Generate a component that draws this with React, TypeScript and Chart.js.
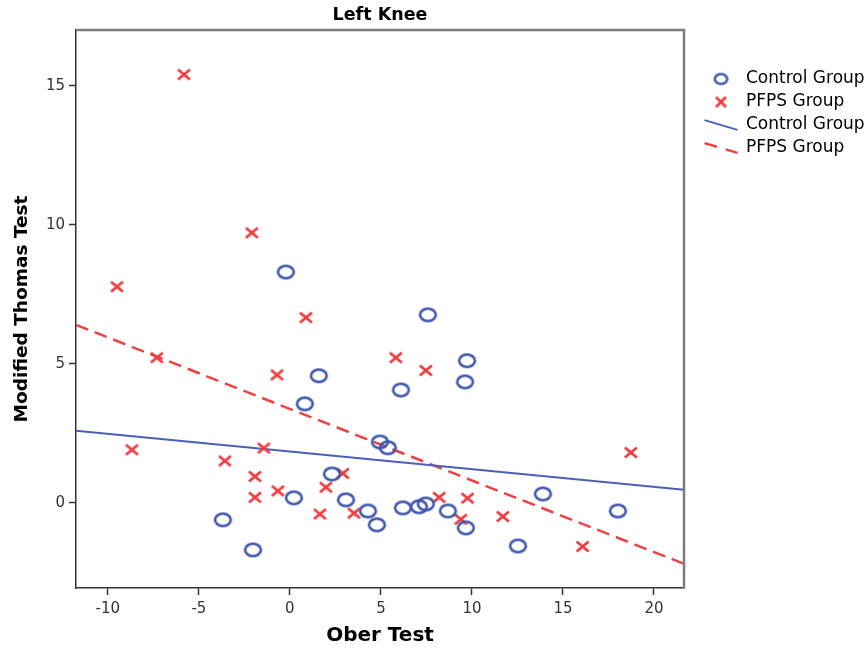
import React, { useEffect, useRef } from 'react';
import { Chart, registerables } from 'chart.js';

Chart.register(...registerables);

// ---- data ----
const seriesNames = ['Control Group', 'PFPS Group'];

const controlX = [-0.22, 7.58, 9.73, 9.62, 1.59, 6.1, 0.82, 4.95, 5.38, 2.31, 0.22, 3.08, 4.29, 4.78, -3.68, -2.03, 6.21, 7.09, 7.47, 8.68, 9.67, 13.9, 18.02, 12.53];
const controlY = [8.3, 6.76, 5.11, 4.35, 4.57, 4.06, 3.56, 2.19, 1.98, 1.04, 0.18, 0.11, -0.29, -0.79, -0.61, -1.69, -0.18, -0.14, -0.04, -0.29, -0.9, 0.32, -0.29, -1.55];

const pfpsX = [-5.82, -2.09, -9.5, 0.88, -7.31, -0.71, 5.82, 7.47, -8.68, -1.43, -3.57, -1.92, -1.92, -0.66, 2.91, 1.98, 1.65, 3.52, 18.73, 8.2, 9.76, 9.39, 11.7, 16.08];
const pfpsY = [15.4, 9.71, 7.77, 6.66, 5.22, 4.6, 5.22, 4.76, 1.91, 1.97, 1.51, 0.95, 0.2, 0.43, 1.06, 0.56, -0.4, -0.37, 1.81, 0.2, 0.17, -0.59, -0.49, -1.57];

const fitX = [-11.75, 21.65];
const controlFitY = [2.59, 0.47];
const pfpsFitY = [6.4, -2.19];

const xTicks = [-10, -5, 0, 5, 10, 15, 20];
const yTicks = [0, 5, 10, 15];

// ---- styles ----
const FONT = 'DejaVu Sans';
const BLUE = '#3c55ab';
const RED = '#ee3a3e';
const BLUE_LINE = '#4a5fb8';
const RED_LINE = '#f04043';

function makeEllipse(rx: number, ry: number, lw: number, color: string) {
  const c = document.createElement('canvas');
  c.width = Math.ceil(2 * rx + lw + 4);
  c.height = Math.ceil(2 * ry + lw + 4);
  const ctx = c.getContext('2d')!;
  ctx.strokeStyle = color;
  ctx.lineWidth = lw;
  ctx.beginPath();
  ctx.ellipse(c.width / 2, c.height / 2, rx, ry, 0, 0, Math.PI * 2);
  ctx.stroke();
  return c;
}

function makeCross(hx: number, hy: number, lw: number, color: string) {
  const c = document.createElement('canvas');
  c.width = Math.ceil(2 * hx + lw + 4);
  c.height = Math.ceil(2 * hy + lw + 4);
  const ctx = c.getContext('2d')!;
  const cx = c.width / 2;
  const cy = c.height / 2;
  ctx.strokeStyle = color;
  ctx.lineWidth = lw;
  ctx.beginPath();
  ctx.moveTo(cx - hx, cy - hy);
  ctx.lineTo(cx + hx, cy + hy);
  ctx.moveTo(cx - hx, cy + hy);
  ctx.lineTo(cx + hx, cy - hy);
  ctx.stroke();
  return c;
}

const framePlugin = {
  id: 'frame',
  afterDraw(chart: any) {
    const { ctx, chartArea: a } = chart;
    ctx.save();
    ctx.strokeStyle = '#7d7d7d';
    ctx.lineWidth = 2.5;
    ctx.beginPath();
    ctx.moveTo(a.left, a.top);
    ctx.lineTo(a.right, a.top);
    ctx.lineTo(a.right, a.bottom);
    ctx.stroke();
    ctx.restore();
  },
};

const legendPlacer = {
  id: 'legendPlacer',
  afterLayout(chart: any) {
    const lg = chart.legend;
    if (!lg) return;
    const h = lg.height;
    lg.left = 698.5;
    lg.top = 64.5;
    lg.right = chart.width;
    lg.width = lg.right - lg.left;
    lg.bottom = lg.top + h;
  },
};

export default function App() {
  const ref = useRef<HTMLCanvasElement>(null);

  useEffect(() => {
    const canvas = ref.current;
    if (!canvas) return;

    const circleImg = makeEllipse(7.9, 6.2, 2.6, BLUE);
    const crossImg = makeCross(6, 5, 2.8, RED);
    const legendCircle = makeEllipse(6.2, 5, 2.5, BLUE);
    const legendCross = makeCross(5, 5, 2.8, RED);

    const chart = new Chart(canvas, {
      type: 'scatter',
      data: {
        datasets: [
          {
            label: seriesNames[0],
            data: controlX.map((x, i) => ({ x, y: controlY[i] })),
            pointStyle: circleImg as any,
            pointRadius: 7,
            borderColor: BLUE,
            backgroundColor: BLUE,
          },
          {
            label: seriesNames[1],
            data: pfpsX.map((x, i) => ({ x, y: pfpsY[i] })),
            pointStyle: crossImg as any,
            pointRadius: 6,
            borderColor: RED,
            backgroundColor: RED,
          },
          {
            type: 'line' as any,
            label: seriesNames[0],
            data: fitX.map((x, i) => ({ x, y: controlFitY[i] })),
            borderColor: BLUE_LINE,
            backgroundColor: BLUE_LINE,
            borderWidth: 2,
            pointRadius: 0,
            showLine: true,
            fill: false,
          } as any,
          {
            type: 'line' as any,
            label: seriesNames[1],
            data: fitX.map((x, i) => ({ x, y: pfpsFitY[i] })),
            borderColor: RED_LINE,
            backgroundColor: RED_LINE,
            borderWidth: 2.5,
            borderDash: [13, 7],
            pointRadius: 0,
            showLine: true,
            fill: false,
          } as any,
        ],
      },
      options: {
        animation: false,
        responsive: false,
        maintainAspectRatio: false,
        layout: { padding: { left: 0, right: 183, top: 0, bottom: 0 } },
        plugins: {
          title: {
            display: true,
            text: 'Left Knee',
            fullSize: false,
            color: '#000',
            font: { family: FONT, size: 17.5, weight: 'bold' },
            padding: { top: 5, bottom: 4 },
          },
          legend: {
            position: 'chartArea' as any,
            align: 'start',
            labels: {
              usePointStyle: true,
              pointStyleWidth: 33,
              padding: 6,
              color: '#000',
              font: { family: FONT, size: 17 },
              generateLabels: (c: any) => {
                const items = (Chart.defaults.plugins.legend.labels as any).generateLabels(c);
                items[0].pointStyle = legendCircle;
                items[1].pointStyle = legendCross;
                items[2].pointStyle = 'line';
                items[2].rotation = 24;
                items[2].lineWidth = 2;
                items[2].strokeStyle = BLUE_LINE;
                items[2].lineDash = [];
                items[3].pointStyle = 'line';
                items[3].rotation = 24;
                items[3].lineWidth = 2.5;
                items[3].strokeStyle = RED_LINE;
                items[3].lineDash = [13, 9];
                items.forEach((it: any) => (it.fontColor = '#000'));
                return items;
              },
            },
          },
          tooltip: { enabled: false },
        },
        scales: {
          x: {
            type: 'linear',
            position: 'bottom',
            min: fitX[0],
            max: fitX[1],
            afterBuildTicks: (s: any) => {
              s.ticks = xTicks.map((v) => ({ value: v }));
            },
            afterFit: (s: any) => {
              s.height = 63;
            },
            grid: { drawOnChartArea: false, drawTicks: true, tickLength: 7, tickColor: '#333', tickWidth: 1.5 },
            border: { display: true, color: '#333', width: 1.5 },
            ticks: { font: { family: FONT, size: 15 }, color: '#333', padding: 5, maxRotation: 0, autoSkip: false },
            title: {
              display: true,
              text: 'Ober Test',
              color: '#000',
              font: { family: FONT, size: 20, weight: 'bold' },
              padding: { top: 0, bottom: 3 },
            },
          },
          y: {
            type: 'linear',
            min: -3.06,
            max: 17.0,
            afterBuildTicks: (s: any) => {
              s.ticks = yTicks.map((v) => ({ value: v }));
            },
            afterFit: (s: any) => {
              s.width = 76;
            },
            grid: { drawOnChartArea: false, drawTicks: true, tickLength: 7, tickColor: '#333', tickWidth: 1.5 },
            border: { display: true, color: '#333', width: 1.5 },
            ticks: { font: { family: FONT, size: 15 }, color: '#333', padding: 4, autoSkip: false },
            title: {
              display: true,
              text: 'Modified Thomas Test',
              color: '#000',
              font: { family: FONT, size: 18.5, weight: 'bold' },
              padding: { top: 11, bottom: 0 },
            },
          },
        },
      },
      plugins: [framePlugin, legendPlacer],
    } as any);

    return () => chart.destroy();
  }, []);

  return (
    <div style={{ position: 'fixed', left: 0, top: 0, width: 867, height: 651, background: '#fff' }}>
      <canvas ref={ref} width={867} height={651} style={{ display: 'block', width: 867, height: 651 }} />
    </div>
  );
}
